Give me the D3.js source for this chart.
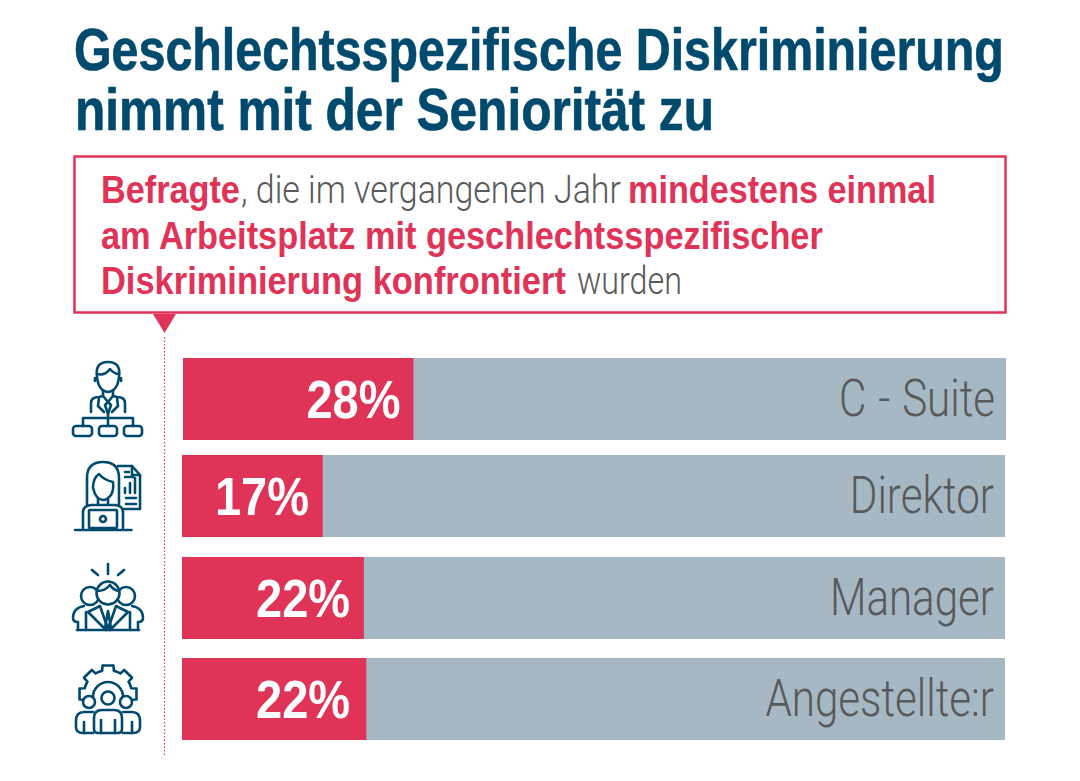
<!DOCTYPE html>
<html lang="de">
<head>
<meta charset="utf-8">
<title>Geschlechtsspezifische Diskriminierung</title>
<script src="https://cdn.jsdelivr.net/npm/d3@7"></script>
<style>
  html, body { margin: 0; padding: 0; background: #fff; }
  svg { display: block; }
  text { font-family: "Liberation Sans", sans-serif; }
  text.light { font-family: Roboto, "Liberation Sans", sans-serif; font-weight: 300; }
</style>
</head>
<body>
<svg id="chart" width="1080" height="781"></svg>
<script>
// data
const levels = ['C - Suite', 'Direktor', 'Manager', 'Angestellte:r'];
const shares = [28, 17.1, 22.1, 22.4];
const shareLabels = ['28%', '17%', '22%', '22%'];

const BLUE = '#004a6e', RED = '#e03358', GREY = '#a5b8c4', TEXT = '#58595b';

const svg = d3.select('#chart');

// no condensed font here, so squeeze the text sideways to the width it has in the original
function put(str, x, y, w, size, fill, light) {
  const t = svg.append('text')
    .attr('class', light ? 'light' : null)
    .attr('font-size', size).attr('font-weight', light ? null : 700).attr('fill', fill)
    .text(str);
  const k = w / t.node().getComputedTextLength();
  t.attr('transform', `translate(${x},${y}) scale(${k},1)`);
  return t;
}

// title
put('Geschlechtsspezifische Diskriminierung', 74, 70, 930, 59, BLUE)
  .attr('stroke', BLUE).attr('stroke-width', 0.7);
put('nimmt mit der Seniorität zu', 75, 130, 639, 59, BLUE)
  .attr('stroke', BLUE).attr('stroke-width', 0.7);

// callout box
svg.append('rect').attr('x', 74.5).attr('y', 156.5).attr('width', 931).attr('height', 156)
  .attr('fill', '#fff').attr('stroke', RED).attr('stroke-width', 2.5);
svg.append('path').attr('d', 'M153 314H176L164.5 333Z').attr('fill', RED);
svg.append('line').attr('x1', 164.5).attr('x2', 164.5).attr('y1', 337).attr('y2', 755)
  .attr('stroke', RED).attr('stroke-width', 1.2).attr('stroke-dasharray', '1.5 2');

put('Befragte', 101, 203, 139, 39, RED);
put(', die im vergangenen Jahr', 241, 203, 380, 39, TEXT, true);
put('mindestens einmal', 628, 203, 308, 39, RED);
put('am Arbeitsplatz mit geschlechtsspezifischer', 101, 249, 722, 39, RED);
put('Diskriminierung konfrontiert', 101, 294, 465, 39, RED);
put('wurden', 577, 294, 105, 39, TEXT, true);

// bars
const x = d3.scaleLinear().domain([0, 100]).range([182, 1005]);
const rowTop = d3.scaleOrdinal().domain(levels).range([358, 455, 557, 658]);
const rowNudge = d3.scaleOrdinal().domain(levels).range([1, 0, 0, 0]); // first bar sits 1px right
const barH = 82;
const rows = levels.map((level, i) => ({ level, share: shares[i], label: shareLabels[i] }));

const row = svg.selectAll('g.row').data(rows).join('g').attr('class', 'row')
  .attr('transform', d => `translate(${rowNudge(d.level)},${rowTop(d.level)})`);

row.append('rect').attr('x', x(0)).attr('width', x(100) - x(0)).attr('height', barH).attr('fill', GREY);
row.append('rect').attr('x', x(0)).attr('width', d => x(d.share) - x(0)).attr('height', barH).attr('fill', RED);

row.append('text')
  .attr('transform', d => `translate(${x(Math.round(d.share)) - 13},60) scale(0.87,1)`)
  .attr('text-anchor', 'end').attr('font-size', 54).attr('font-weight', 700).attr('fill', '#fff')
  .text(d => d.label);
row.append('text').attr('class', 'light')
  .attr('transform', `translate(${x(100) - 11},58) scale(0.81,1)`)
  .attr('text-anchor', 'end').attr('font-size', 52).attr('word-spacing', 2).attr('fill', TEXT)
  .text(d => d.level);

// icons
const icons = svg.append('g').attr('fill', 'none').attr('stroke', BLUE)
  .attr('stroke-width', 2.6).attr('stroke-linecap', 'round').attr('stroke-linejoin', 'round');
const line = d => icons.append('path').attr('d', d);
const circle = (cx, cy, r) => icons.append('circle').attr('cx', cx).attr('cy', cy).attr('r', r).attr('fill', '#fff');
const box = (bx, by, w, h, r) => icons.append('rect').attr('x', bx).attr('y', by).attr('width', w).attr('height', h).attr('rx', r);

// C-suite: man above an org chart
line('M97 376Q95 362 108 362Q121 362 119 376Q118 391 108 392Q98 391 97 376Z');
line('M97 374Q105 376 110 369Q114 374 119 374');
line('M95 378V381M121 378V381');
line('M103 390V396M113 390V396');
line('M91 412V403Q91 397 99 397L103 396L108 402L113 396L117 397Q125 397 125 403V412');
line('M108 402L105 405L108 414L111 405Z');
line('M99 398L98 406L104 412M117 398L118 406L112 412');
line('M108 414V426M83 426V418H133V426');
box(73, 426, 19, 10, 3); box(99, 426, 18, 10, 3); box(124, 426, 18, 10, 3);

// Direktor: woman with laptop and report
line('M118 466H132L140 475V509H124');
line('M132 466V475H140');
line('M125 472H129M125 477H133M125 493V488M130 493V483M135 493V478M126 498H136M126 504H136');
line('M87 505V478Q87 462 103 462Q119 462 119 478V505');
line('M93 488Q93 478 99 474Q104 480 113 482Q114 490 111 495Q107 500 103 500Q96 500 93 488Z');
line('M98 499V504M108 499V504');
line('M83 528V512Q83 506 91 505H115Q123 506 123 512V528');
box(89, 510, 28, 18, 1);
circle(103, 519, 3);
line('M77 530H129M75 530H75.5M131 530H131.5');

// Manager: three heads
line('M92 570L98 575M108 564V574M124 570L118 575');
circle(90, 596, 9); circle(126, 596, 9);
circle(108, 593, 11.5);
line('M97 591Q105 591 110 585Q113 590 119 591');
line('M84 606Q73 608 73 618Q73 622 78 622V630M132 606Q143 608 143 618Q143 622 138 622V630');
line('M86 612V630M130 612V630');
line('M88 612L100 606L108 629L116 606L128 612M88 612L106 630M128 612L110 630');
line('M108 611L105 628H111Z');
line('M77 630H139');

// Angestellte:r: team under a cog
const gearPts = [];
const gear = d3.path();
d3.range(-180, 1, 45).forEach(deg => {
  [[-27, 24], [-14, 24], [-11, 29], [11, 29], [14, 24], [27, 24]].forEach(([da, r]) => {
    const a = (deg + da) * Math.PI / 180;
    gearPts.push([108 + r * Math.cos(a), 694 + r * Math.sin(a)]);
  });
});
gearPts.slice(1, -1).forEach((p, i) => i ? gear.lineTo(p[0], p[1]) : gear.moveTo(p[0], p[1]));
line(gear.toString());
line('M93 697A15 15 0 0 1 123 697');
circle(108, 698, 6.5); circle(89, 702, 6); circle(126, 702, 6);
line('M98 733H118Q122 733 122 729V718Q122 710 114 710H102Q94 710 94 718V729Q94 733 98 733Z');
line('M101 720V733M115 720V733');
line('M93 712H84Q76 712 76 721V727Q76 733 83 733H93M123 712H132Q140 712 140 721V727Q140 733 133 733H123');
line('M84 722V733M132 722V733');
</script>
</body>
</html>
